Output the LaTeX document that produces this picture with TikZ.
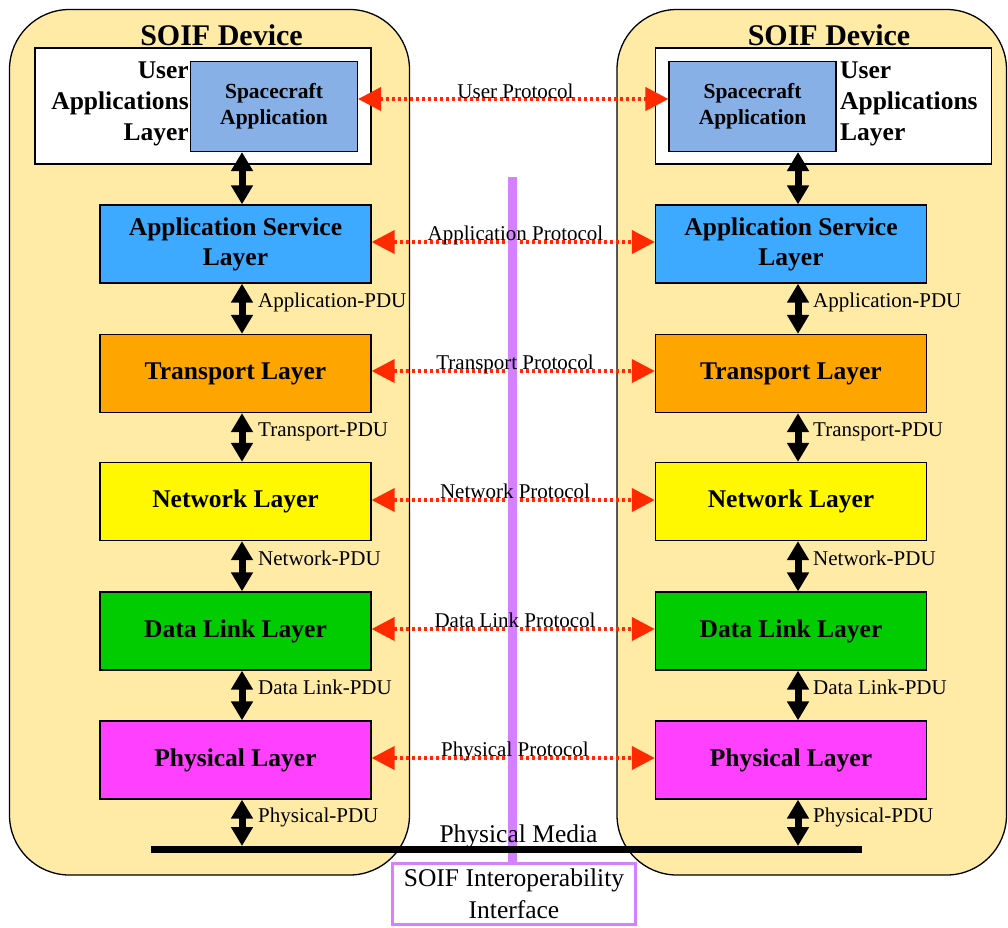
\documentclass[tikz,border=0pt]{standalone}
\usepackage{fontspec}
\setmainfont{Liberation Serif}
\usetikzlibrary{arrows.meta,calc}
\definecolor{devfill}{HTML}{FFEBA5}
\definecolor{scfill}{HTML}{86B0E6}
\definecolor{aslfill}{HTML}{3DAAFF}
\definecolor{trfill}{HTML}{FFA500}
\definecolor{nwfill}{HTML}{FFF800}
\definecolor{dlfill}{HTML}{00CC00}
\definecolor{phfill}{HTML}{FF40FF}
\definecolor{protred}{HTML}{FF2A00}
\definecolor{ifpurple}{HTML}{D580FF}
\tikzset{
  device/.style={draw=black, line width=1.3pt, fill=devfill, rounded corners=60pt},
  layerbox/.style={draw=black, line width=1.3pt, inner sep=0pt, minimum width=271pt, minimum height=78pt,
    align=center, font={\fontsize{25.5}{30}\selectfont\bfseries}},
  scbox/.style={draw=black, line width=1.1pt, fill=scfill, inner sep=0pt, minimum width=167pt, minimum height=90pt,
    align=center, font={\fontsize{21.5}{26}\selectfont\bfseries}},
  whitebox/.style={draw=black, line width=1.1pt, fill=white, inner sep=0pt, minimum width=336pt, minimum height=116pt},
  devtitle/.style={font={\fontsize{30}{34}\selectfont\bfseries}},
  ualabel/.style={font={\fontsize{25.5}{31}\selectfont\bfseries}, inner sep=0pt},
  pdulabel/.style={font={\fontsize{21}{24}\selectfont}, inner sep=0pt, anchor=base west},
  protlabel/.style={font={\fontsize{21}{24}\selectfont}, inner sep=0pt, anchor=base},
  blkarrow/.style={line width=7pt, {Triangle[length=19pt,width=21pt]}-{Triangle[length=19pt,width=21pt]}},
  redarrow/.style={draw=protred, line width=4pt, dash pattern=on 3.3pt off 2.7pt,
    {Triangle[length=23pt,width=23pt]}-{Triangle[length=23pt,width=23pt]}, fill=protred},
}
\begin{document}
\begin{tikzpicture}[x=1pt,y=-1pt]
\useasboundingbox (0,0) rectangle (1008,927);
% devices
\draw[device] (9.5,9.5) rectangle (409.5,875);
\draw[device] (617,9.5) rectangle (1006.5,875);
\node[devtitle] (t1) at (221.5,35) {SOIF Device};
\node[devtitle] (t2) at (829,35) {SOIF Device};
% user application layer
\node[whitebox] (w1) at (203,106) {};
\node[whitebox] (w2) at (823.5,106) {};
\node[scbox] (sc1) at (274,106.5) {Spacecraft\\Application};
\node[scbox] (sc2) at (752.5,106.5) {Spacecraft\\Application};
\node[ualabel, anchor=east, align=right] (u1) at (189,104) {User\\Applications\\Layer};
\node[ualabel, anchor=west, align=left] (u2) at (840,104) {User\\Applications\\Layer};
% layers left
\node[layerbox, fill=aslfill] (a1) at (235.5,244) {Application Service\\Layer};
\node[layerbox, fill=trfill] (r1) at (235.5,373.5) {Transport Layer};
\node[layerbox, fill=nwfill] (n1) at (235.5,501.5) {Network Layer};
\node[layerbox, fill=dlfill] (d1) at (235.5,631) {Data Link Layer};
\node[layerbox, fill=phfill] (p1) at (235.5,760) {Physical Layer};
% layers right
\node[layerbox, fill=aslfill] (a2) at (791,244) {Application Service\\Layer};
\node[layerbox, fill=trfill] (r2) at (791,373.5) {Transport Layer};
\node[layerbox, fill=nwfill] (n2) at (791,501.5) {Network Layer};
\node[layerbox, fill=dlfill] (d2) at (791,631) {Data Link Layer};
\node[layerbox, fill=phfill] (p2) at (791,760) {Physical Layer};
% vertical arrows left
\draw[blkarrow] ([xshift=6.5pt]a1.north |- sc1.south) -- ([xshift=6.5pt]a1.north);
\draw[blkarrow] ([xshift=6.5pt]a1.south) -- ([xshift=6.5pt]r1.north);
\draw[blkarrow] ([xshift=6.5pt]r1.south) -- ([xshift=6.5pt]n1.north);
\draw[blkarrow] ([xshift=6.5pt]n1.south) -- ([xshift=6.5pt]d1.north);
\draw[blkarrow] ([xshift=6.5pt]d1.south) -- ([xshift=6.5pt]p1.north);
\coordinate (m1) at (242,846);
\draw[blkarrow] ([xshift=6.5pt]p1.south) -- (m1);
% vertical arrows right
\draw[blkarrow] ([xshift=7pt]a2.north |- sc2.south) -- ([xshift=7pt]a2.north);
\draw[blkarrow] ([xshift=7pt]a2.south) -- ([xshift=7pt]r2.north);
\draw[blkarrow] ([xshift=7pt]r2.south) -- ([xshift=7pt]n2.north);
\draw[blkarrow] ([xshift=7pt]n2.south) -- ([xshift=7pt]d2.north);
\draw[blkarrow] ([xshift=7pt]d2.south) -- ([xshift=7pt]p2.north);
\coordinate (m2) at (798,846);
\draw[blkarrow] ([xshift=7pt]p2.south) -- (m2);
% PDU labels
\node[pdulabel] (l1) at (258,307) {Application-PDU};
\node[pdulabel] (l2) at (258,436) {Transport-PDU};
\node[pdulabel] (l3) at (258,565) {Network-PDU};
\node[pdulabel] (l4) at (258,694) {Data Link-PDU};
\node[pdulabel] (l5) at (258,822) {Physical-PDU};
\node[pdulabel] (k1) at (813,307) {Application-PDU};
\node[pdulabel] (k2) at (813,436) {Transport-PDU};
\node[pdulabel] (k3) at (813,565) {Network-PDU};
\node[pdulabel] (k4) at (813,694) {Data Link-PDU};
\node[pdulabel] (k5) at (813,822) {Physical-PDU};
% protocol arrows
\draw[redarrow] ([yshift=7.5pt]sc1.east) -- ([yshift=7.5pt]sc2.west);
\draw[redarrow] ([yshift=2pt]a1.east) -- ([yshift=2pt]a2.west);
\draw[redarrow] ([yshift=2.5pt]r1.east) -- ([yshift=2.5pt]r2.west);
\draw[redarrow] ([yshift=1.5pt]n1.east) -- ([yshift=1.5pt]n2.west);
\draw[redarrow] ([yshift=2pt]d1.east) -- ([yshift=2pt]d2.west);
\draw[redarrow] ([yshift=2pt]p1.east) -- ([yshift=2pt]p2.west);
% interface line and box
\node[draw=ifpurple, line width=3pt, fill=white, minimum width=243pt, minimum height=61pt, inner sep=0pt,
  align=center, font={\fontsize{25.5}{32}\selectfont}] (ifb) at (514,894) {SOIF Interoperability\\Interface};
\coordinate (pt) at (512.5,177);
\draw[ifpurple, line width=9pt] (pt) -- (pt |- ifb.north);
% protocol labels
\node[protlabel] (q1) at (515.5,98) {User Protocol};
\node[protlabel] (q2) at (515.5,240) {Application Protocol};
\node[protlabel] (q3) at (515,369) {Transport Protocol};
\node[protlabel] (q4) at (515,498) {Network Protocol};
\node[protlabel] (q5) at (515,627) {Data Link Protocol};
\node[protlabel] (q6) at (515,756) {Physical Protocol};
% physical media
\coordinate (pm1) at (151,849.5);
\coordinate (pm2) at (862,849.5);
\draw[line width=7pt] (pm1) -- (pm2);
\node[font={\fontsize{25.5}{30}\selectfont}, inner sep=0pt, anchor=base] (pml) at (518.5,842) {Physical Media};
\end{tikzpicture}
\end{document}
